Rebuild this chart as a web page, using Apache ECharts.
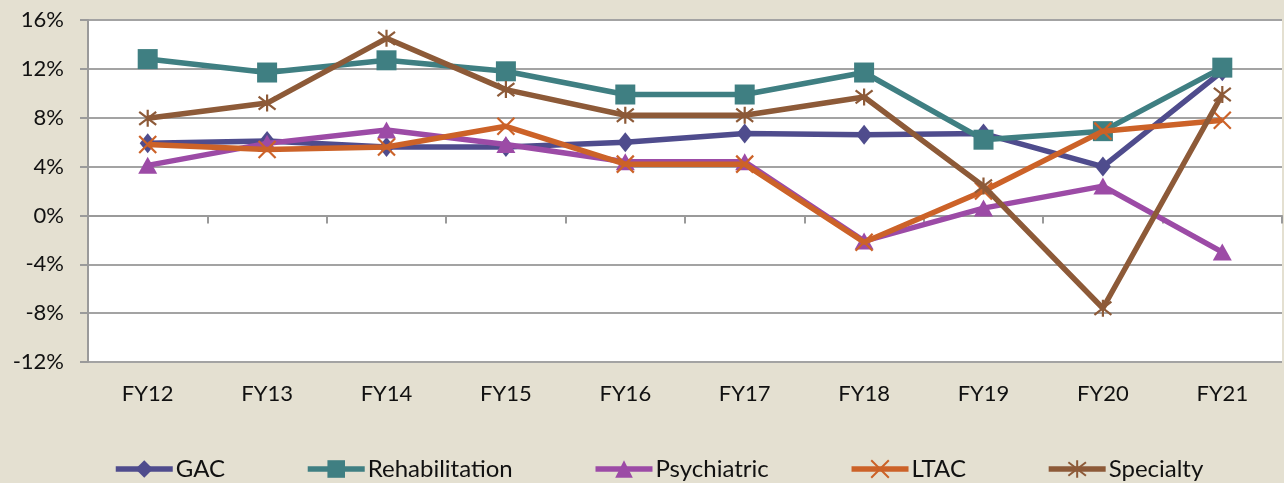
<!DOCTYPE html>
<html>
<head>
<meta charset="utf-8">
<script src="https://cdn.jsdelivr.net/npm/echarts@6/dist/echarts.min.js"></script>
<style>
html,body{margin:0;padding:0;background:#E4E0D1;}
#c{width:1284px;height:483px;}
</style>
</head>
<body>
<div id="c"></div>
<script>
const categories = ['FY12','FY13','FY14','FY15','FY16','FY17','FY18','FY19','FY20','FY21'];
const yTicks = [-12,-8,-4,0,4,8,12,16];
const gac      = [5.9, 6.1, 5.6, 5.6, 6.0, 6.7, 6.6, 6.7, 4.0, 11.8];
const rehab    = [12.8, 11.7, 12.7, 11.8, 9.9, 9.9, 11.7, 6.2, 6.9, 12.1];
const psych    = [4.1, 5.9, 7.0, 5.8, 4.4, 4.4, -2.1, 0.6, 2.4, -3.0];
const ltac     = [5.8, 5.4, 5.6, 7.3, 4.2, 4.2, -2.2, 2.0, 6.9, 7.8];
const specialty= [7.95, 9.2, 14.5, 10.3, 8.2, 8.2, 9.7, 2.4, -7.6, 9.9];

const names = ['GAC','Rehabilitation','Psychiatric','LTAC','Specialty'];
const colors = ['#4F4C8D','#3F7F82','#9C4BA6','#CC6228','#8D5A38'];
const datasets = [gac, rehab, psych, ltac, specialty];
const symbols = ['diamond','rect','triangle','path://M0,0L10,10M10,0L0,10','path://M0,0L10,10M10,0L0,10M5,-1.5L5,11.5'];
const sizes = [[16,20],20,[19,17],17,17];

const FONT = 'Lato';
const chart = echarts.init(document.getElementById('c'));
chart.setOption({
  backgroundColor: '#E4E0D1',
  animation: false,
  textStyle: {fontFamily: FONT},
  grid: {left: 88, right: 2, top: 20, bottom: 121, show: true, backgroundColor: '#ffffff', borderWidth: 0},
  xAxis: {
    type: 'category', data: categories, boundaryGap: true,
    axisLine: {show: true, lineStyle: {color: '#9A9A9A', width: 2}},
    axisTick: {show: true, length: 8, alignWithLabel: false, lineStyle: {color: '#9A9A9A', width: 2}},
    axisLabel: {color: '#111', fontSize: 22, margin: 21, fontFamily: FONT},
    splitLine: {show: false}
  },
  yAxis: {
    type: 'value', min: yTicks[0], max: yTicks[yTicks.length-1], interval: 4,
    axisLine: {show: true, lineStyle: {color: '#9A9A9A', width: 2}},
    axisTick: {show: true, length: 8, lineStyle: {color: '#9A9A9A', width: 2}},
    axisLabel: {color: '#111', fontSize: 22, margin: 24, fontFamily: FONT, formatter: v => v + '%'},
    splitLine: {show: true, lineStyle: {color: '#A3A3A3', width: 2}}
  },
  legend: {
    data: names, top: 452, left: 108, itemGap: 80, itemWidth: 57, itemHeight: 22,
    lineStyle: {width: 5.5},
    textStyle: {fontSize: 24, color: '#111', fontFamily: FONT, padding: [0,0,0,-2]}
  },
  series: datasets.map((d, i) => ({
    name: names[i], type: 'line', data: d,
    symbol: symbols[i], symbolSize: sizes[i],
    lineStyle: {color: colors[i], width: 5.5},
    itemStyle: i >= 3 ? {color: 'rgba(0,0,0,0)', borderColor: colors[i], borderWidth: 2.2} : {color: colors[i], borderWidth: 0},
    z: 2 + i
  }))
});
</script>
</body>
</html>
